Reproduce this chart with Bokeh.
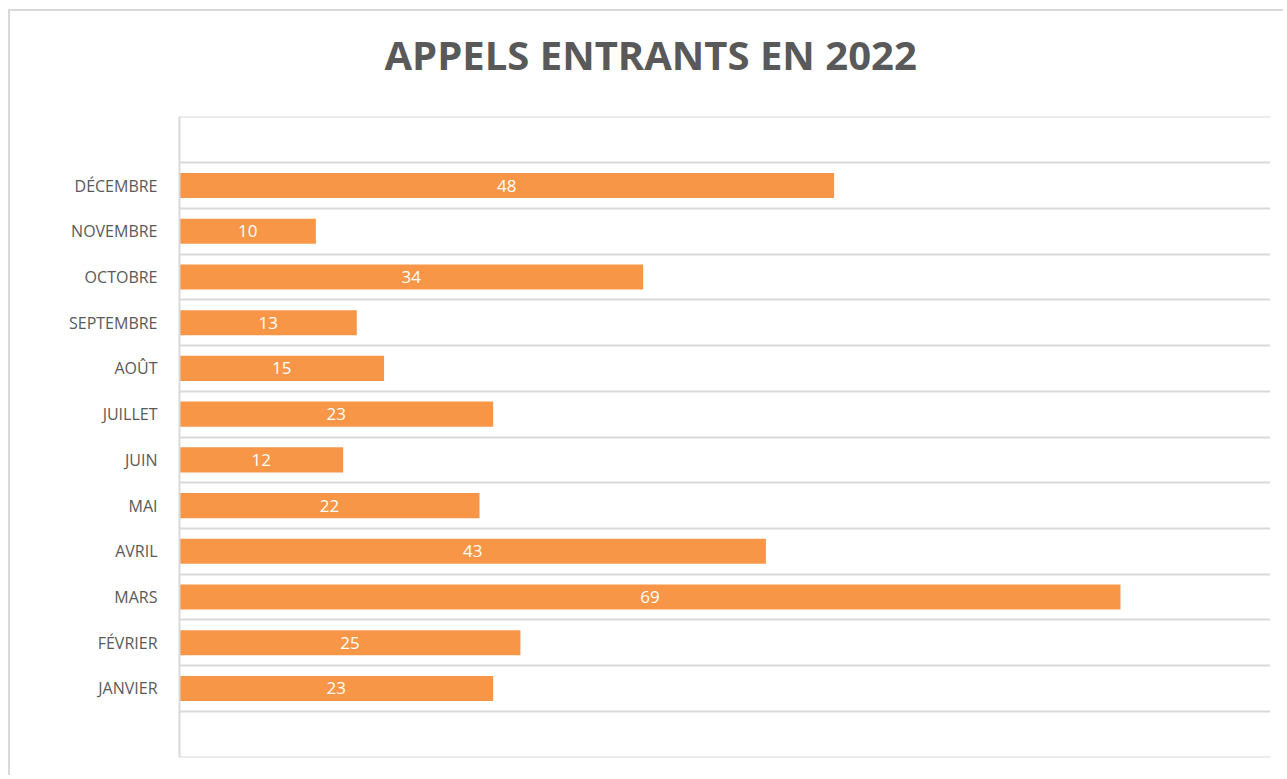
from bokeh.plotting import figure
from bokeh.models import FixedTicker, ColumnDataSource, Range1d, Title
from bokeh.embed import file_html
from bokeh.resources import INLINE
from bokeh.core.properties import value

# Data
months = ["JANVIER", "FÉVRIER", "MARS", "AVRIL", "MAI", "JUIN",
          "JUILLET", "AOÛT", "SEPTEMBRE", "OCTOBRE", "NOVEMBRE", "DÉCEMBRE"]
calls = [23, 25, 69, 43, 22, 12, 23, 15, 13, 34, 10, 48]
title_text = "APPELS ENTRANTS EN 2022"

BAR = "#F79646"
TXT = "#595959"
GRID = "#D9D9D9"
FONT = "Open Sans"

pos = list(range(1, len(months) + 1))
src = ColumnDataSource(dict(
    y=pos, v=calls, mid=[c / 2 for c in calls], lab=[str(c) for c in calls]))

p = figure(width=1275, height=766, output_backend="svg", toolbar_location=None,
           x_range=Range1d(0, 80), y_range=Range1d(-0.51, len(months) + 1.51),
           min_border_left=169, min_border_right=15, min_border_top=105,
           min_border_bottom=20)
p.outline_line_color = None
p.background_fill_color = "white"
p.border_fill_color = "white"
p.styles = {"border-left": "2px solid #D9D9D9", "border-top": "2px solid #D9D9D9",
            "margin-left": "8px", "margin-top": "9px"}

# spacer between the title and the plot area
p.add_layout(Title(text=" ", text_font_size="10px", standoff=22), "above")

p.title.text = title_text
p.title.align = "left"
p.title.offset = 205
p.title.text_font = FONT
p.title.text_font_size = "40px"
p.title.text_font_style = "bold"
p.title.text_color = TXT
p.title.standoff = 0

p.hbar(y="y", right="v", left=0, height=0.55, source=src,
       fill_color=BAR, line_color=None)
p.text(x="mid", y="y", text="lab", source=src, text_align="center",
       text_baseline="middle", text_color="white",
       text_font=value(FONT), text_font_size="17px")

p.xaxis.visible = False
p.xgrid.visible = False

yax = p.yaxis[0]
yax.ticker = FixedTicker(ticks=pos)
yax.major_label_overrides = {i: m for i, m in zip(pos, months)}
yax.major_tick_line_color = None
yax.minor_tick_line_color = None
yax.axis_line_color = GRID
yax.axis_line_width = 2
yax.major_label_standoff = 16
yax.major_label_text_font = FONT
yax.major_label_text_font_size = "16px"
yax.major_label_text_color = TXT

p.ygrid.ticker = FixedTicker(ticks=[i + 0.5 for i in range(-1, len(months) + 2)])
p.ygrid.grid_line_color = GRID
p.ygrid.grid_line_width = 2

open("out.html", "w").write(file_html(p, INLINE))
